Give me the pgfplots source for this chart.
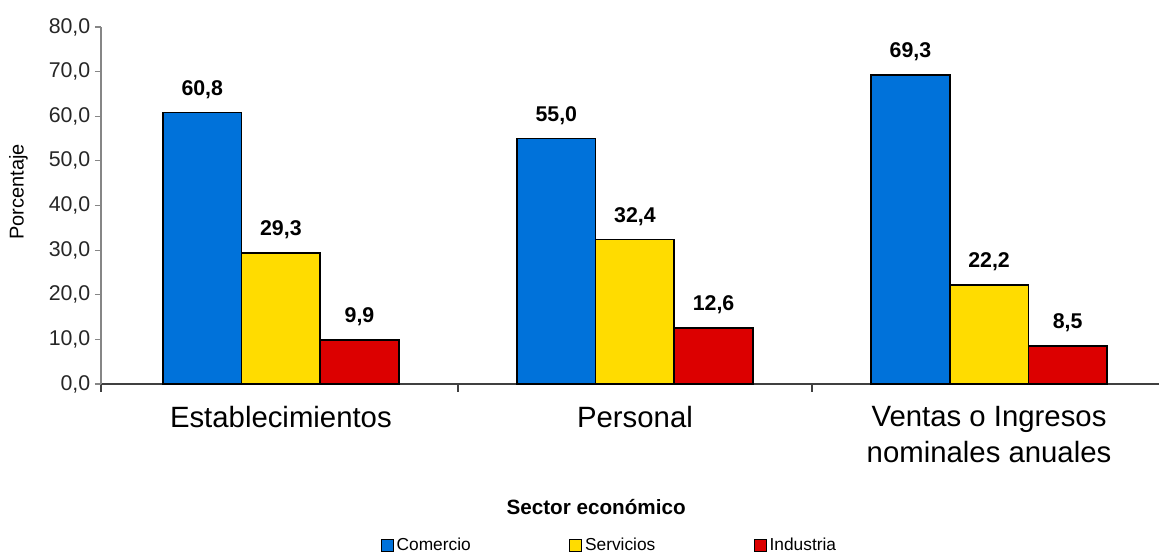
\documentclass[border=0pt]{standalone}
\usepackage{pgfplots}
\pgfplotsset{compat=1.18}
\usepackage{fontspec}
\setmainfont{Liberation Sans}
\definecolor{cblue}{RGB}{0,114,218}
\definecolor{cyellow}{RGB}{255,220,0}
\definecolor{cred}{RGB}{220,0,0}
\definecolor{axgray}{RGB}{134,134,134}
\begin{document}
\begin{tikzpicture}
\begin{axis}[
  scale only axis, width=793.5pt, height=267.75pt,
  xmin=-0.508, xmax=2.48, ymin=0, ymax=80,
  axis x line*=bottom, axis y line*=left,
  x axis line style={draw=black!75, line width=0.9pt},
  y axis line style={draw=axgray, line width=0.9pt},
  ytick={0,10,...,80},
  xtick={0,1,2},
  xticklabels={Establecimientos, Personal, {Ventas o Ingresos\\nominales anuales}},
  major x tick style={draw=none},
  minor xtick={-0.508,0.5,1.5},
  minor x tick style={draw=black!75, line width=0.9pt},
  ytick style={draw=axgray, line width=0.9pt},
  tick align=outside,
  major tick length=4.5pt, minor tick length=6pt,
  /pgf/number format/use comma,
  /pgf/number format/fixed,
  /pgf/number format/fixed zerofill,
  /pgf/number format/precision=1,
  /pgf/number format/assume math mode=true,
  yticklabel style={font=\fontsize{16}{18}\selectfont, text=black!85},
  xticklabel style={font=\fontsize{22}{27}\selectfont, align=center, text=black, yshift=-9pt},
  ylabel={Porcentaje},
  ylabel style={at={(axis description cs:-0.0780,0.538)}, anchor=center, font=\fontsize{15}{18}\selectfont},
  xlabel={Sector económico},
  xlabel style={at={(axis description cs:0.468,-0.345)}, anchor=center, font=\bfseries\fontsize{15.5}{18}\selectfont},
  legend columns=3,
  legend style={at={(axis description cs:0.481,-0.451)}, anchor=center, draw=none, fill=none,
    font=\fontsize{13}{15}\selectfont,
    /tikz/every even column/.append style={column sep=72pt},
    /tikz/every odd column/.append style={column sep=0pt}},
  ybar legend/.style={legend image code/.code={\draw[##1,draw=black,line width=0.7pt] (0pt,-4.5pt) rectangle (9pt,4.5pt);}},
  ybar, bar width=0.222,
  nodes near coords,
  every node near coord/.append style={font=\bfseries\fontsize{16}{19}\selectfont, text=black, anchor=base, yshift=13pt},
  clip=false,
]
\addplot[fill=cblue, draw=black, line width=1.2pt, bar shift=-0.222] coordinates {(0,60.8) (1,55.0) (2,69.3)};
\addplot[fill=cyellow, draw=black, line width=1.2pt, bar shift=0] coordinates {(0,29.3) (1,32.4) (2,22.2)};
\addplot[fill=cred, draw=black, line width=1.2pt, bar shift=0.222] coordinates {(0,9.9) (1,12.6) (2,8.5)};
\legend{Comercio, Servicios, Industria}
\coordinate (bbsw) at (axis description cs:-0.09546,-0.4706);
\coordinate (bbne) at (axis description cs:1.0,1.0756);
\end{axis}
\pgfresetboundingbox
\useasboundingbox (bbsw) rectangle (bbne);
\end{tikzpicture}
\end{document}
